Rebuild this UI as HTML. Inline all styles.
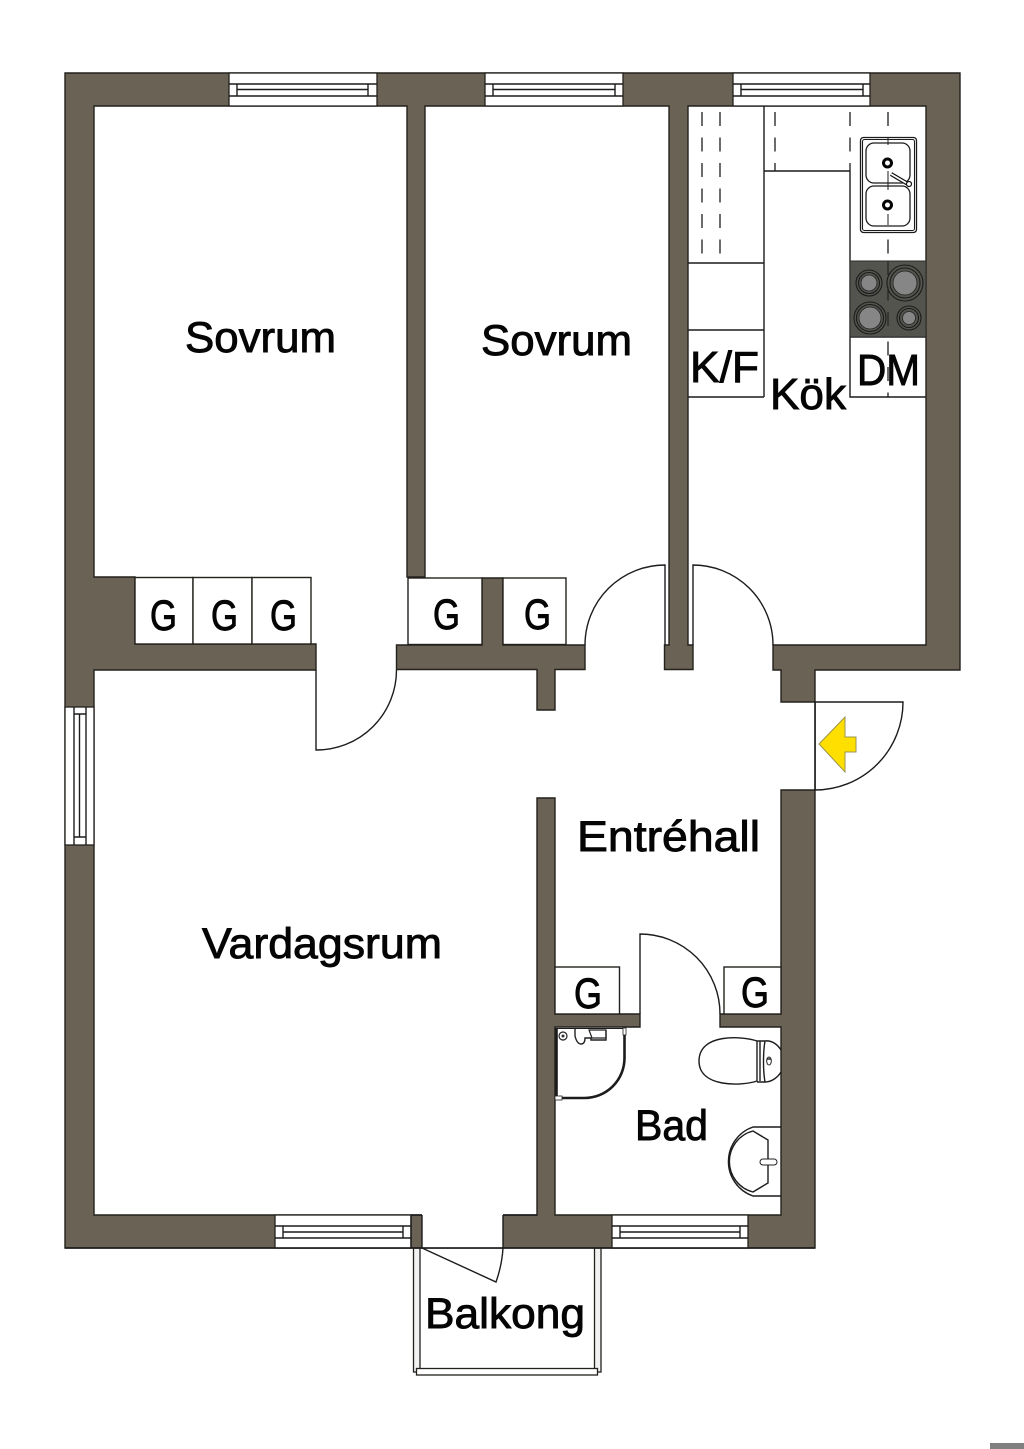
<!DOCTYPE html>
<html><head><meta charset="utf-8"><style>
html,body{margin:0;padding:0;background:#fff}
svg{display:block}
text{font-family:"Liberation Sans",sans-serif;fill:#050505;stroke:#050505;stroke-width:.9}
.w{fill:#6a6254;stroke:#23211c;stroke-width:1.4}
.r{fill:#fff;stroke:#23211c;stroke-width:1.4}
.l{fill:none;stroke:#1c1c1c;stroke-width:1.4}
.d{fill:none;stroke:#1c1c1c;stroke-width:1.3;stroke-dasharray:14 11.500;stroke-dashoffset:19.500}
.b{fill:#fff;stroke:#23211c;stroke-width:1.3}
</style></head><body>
<svg xmlns="http://www.w3.org/2000/svg" width="1024" height="1449" viewBox="0 0 1024 1449">
<rect width="1024" height="1449" fill="#fff"/>
<rect x="990" y="1443" width="34" height="6" fill="#808080"/>

<!-- balcony -->
<rect class="b" x="413.500" y="1248" width="6.500" height="124" style="fill:#f2f2f2"/>
<rect class="b" x="594.500" y="1248" width="6.500" height="124" style="fill:#f2f2f2"/>
<rect class="b" x="416.500" y="1368.500" width="181" height="6.500"/>

<!-- walls -->
<path class="w" d="M65 73H960V670H815V1248H65Z"/>
<path class="r" d="M94 106H407V577H425V106H669V645H664.500V669.500H693V645H688V106H926V645H773V670H781V702H815V790H781V1014H720V1027H781V1215H555V1027H640V1014H555V798H537V1215H94V670H316V644H135V577H94Z"/>
<path class="w" d="M396.500 645H482V578H503V645H585V669.500H555V710H537V669.500H396.500Z"/>

<!-- closets -->
<rect class="r" x="135" y="577.500" width="58" height="66.500"/>
<rect class="r" x="193" y="577.500" width="59" height="66.500"/>
<rect class="r" x="252" y="577.500" width="59" height="66.500"/>
<rect class="r" x="408" y="578" width="74" height="66.500"/>
<rect class="r" x="503" y="578" width="63" height="66.500"/>
<rect class="r" x="555" y="967" width="64.500" height="47"/>
<rect class="r" x="724" y="967" width="57" height="47"/>

<!-- windows top -->
<g>
<rect class="b" x="229" y="73" width="148" height="33"/>
<path class="l" d="M229 84H377M229 96H377M237 84V96M368 84V96M237 89.500H368"/>
<rect class="b" x="485" y="73" width="138" height="33"/>
<path class="l" d="M485 84H623M485 96H623M493 84V96M615 84V96M493 89.500H615"/>
<rect class="b" x="733" y="73" width="137" height="33"/>
<path class="l" d="M733 84H870M733 96H870M741 84V96M863 84V96M741 89.500H863"/>
<!-- left window -->
<rect class="b" x="65" y="707" width="29" height="138"/>
<path class="l" d="M74 707V845M86 707V845M74 714H86M74 837H86M79.500 714V837"/>
<!-- bottom windows -->
<rect class="b" x="275" y="1215" width="136" height="33"/>
<path class="l" d="M275 1226H411M275 1238H411M283 1226V1238M403 1226V1238M283 1232H403"/>
<rect class="b" x="612" y="1215" width="136" height="33"/>
<path class="l" d="M612 1226H748M612 1238H748M620 1226V1238M740 1226V1238M620 1232H740"/>
</g>

<!-- balcony door gap -->
<rect x="422" y="1214" width="81" height="33.300" fill="#fff"/>
<path class="l" d="M411 1215V1248M422 1215V1248M411 1215H422M503 1215V1248M503 1215H537"/>
<path class="l" d="M65 1248H815"/>
<path class="l" d="M422 1248L496 1282Q502 1265 503 1248"/>

<!-- doors -->
<path class="l" d="M316 670V750A80 80 0 0 0 396.500 670"/>
<path class="l" d="M665 645V565A80 80 0 0 0 585 645"/>
<path class="l" d="M693 645V565A80 80 0 0 1 773 645"/>
<path class="l" d="M815 702H903A88 88 0 0 1 815 790Z"/>
<path class="l" d="M640 1014V934A80 80 0 0 1 720 1014"/>

<polygon points="819,744 845,717 845,737 856,737 856,752 845,752 845,772" fill="#ffdf00" stroke="#9a9450" stroke-width="1"/>

<!-- kitchen -->
<path class="l" d="M764 106V397M688 263H764M688 330H764M688 397H764M764 171H850M850 171V397H926M850 337H926"/>
<path class="d" d="M702 106V263M720 106V263"/>
<path class="d" d="M775 106V171M850 106V171"/>
<path class="d" d="M888 106V397"/>
<rect x="850" y="261" width="76" height="76" fill="#54544f" stroke="#2a2a2a" stroke-width="1"/>
<g stroke="#1b1b1b" stroke-width="1.1" fill="#54544f">
<circle cx="869" cy="283" r="13"/><circle cx="869" cy="283" r="10.500"/>
<circle cx="905" cy="283" r="18"/><circle cx="905" cy="283" r="15"/>
<circle cx="870" cy="318" r="16"/><circle cx="870" cy="318" r="13.500"/>
<circle cx="909" cy="318" r="12"/><circle cx="909" cy="318" r="9.500"/>
</g>
<g fill="#868686" stroke="#222" stroke-width=".8">
<circle cx="869" cy="283" r="8"/><circle cx="905" cy="283" r="12"/><circle cx="870" cy="318" r="11"/><circle cx="909" cy="318" r="6.500"/>
</g>
<path d="M888 261V337" stroke="#222" stroke-width="1.2" stroke-dasharray="14 11.500" fill="none"/>

<rect x="860.500" y="137.500" width="56" height="95" rx="3" fill="#fff" stroke="#1c1c1c" stroke-width="1.300"/>
<rect x="862.500" y="139.500" width="52" height="91" rx="2" fill="none" stroke="#1c1c1c" stroke-width="1.100"/>
<rect x="866" y="143" width="44" height="40" rx="8" fill="#fff" stroke="#1c1c1c" stroke-width="1.300"/>
<rect x="866" y="186" width="44" height="40" rx="8" fill="#fff" stroke="#1c1c1c" stroke-width="1.300"/>
<path d="M888 137V145M888 171V190M888 214V225" stroke="#1c1c1c" stroke-width="1"/>
<circle cx="887.500" cy="163" r="4" fill="#fff" stroke="#050505" stroke-width="3"/>
<circle cx="887.500" cy="205" r="4" fill="#fff" stroke="#050505" stroke-width="3"/>
<path d="M891 174L908 184" stroke="#111" stroke-width="4.200"/>
<path d="M891 174L908 184" stroke="#fff" stroke-width="1.700"/>
<circle cx="909" cy="184" r="2.500" fill="#fff" stroke="#111" stroke-width="1.200"/>

<!-- shower -->
<path class="l" style="stroke-width:2.600" d="M556.500 1098V1028M624.500 1028V1058A40 40 0 0 1 584.500 1098H556.500"/>
<path class="l" style="stroke-width:1" d="M556 1028.500H625"/>
<rect x="555" y="1096" width="7" height="4" fill="#fff" stroke="#222" stroke-width=".8"/>
<rect x="623" y="1028" width="3" height="7" fill="#fff" stroke="#222" stroke-width=".8"/>
<circle cx="563" cy="1036" r="4" fill="#fff" stroke="#222" stroke-width="1.200"/>
<circle cx="563" cy="1036" r="1.500" fill="#333"/>
<path d="M575 1029V1036Q577 1044 581 1044 585 1044 585 1038H591V1040H606V1030" fill="#fff" stroke="#222" stroke-width="1.400"/>
<path d="M589 1030H606V1038H592Z" fill="none" stroke="#222" stroke-width="1.200"/>

<!-- toilet -->
<path class="l" d="M757 1041C742 1036 699 1033 699 1061 699 1088 742 1086 757 1081V1041H765C772 1040 778 1045 781 1050M765 1082H757M765 1082C772 1082 778 1077 781 1072M760 1041V1081M765 1041C763 1052 763 1071 765 1082"/>
<ellipse cx="769" cy="1061" rx="2.300" ry="4" fill="#fff" stroke="#222" stroke-width="1"/>
<path class="l" d="M767 1059H771"/>

<!-- basin -->
<path class="l" d="M781 1127H753A36.500 36.500 0 0 0 753 1196H781"/>
<path class="l" d="M768 1140L753 1131A31.500 31.500 0 0 0 753 1192L768 1183Z"/>
<rect x="760" y="1159" width="17" height="6" rx="3" fill="#fff" stroke="#222" stroke-width="1"/>

<!-- labels -->
<text x="185" y="352" font-size="43" textLength="151" lengthAdjust="spacingAndGlyphs">Sovrum</text>
<text x="481" y="355" font-size="43" textLength="151" lengthAdjust="spacingAndGlyphs">Sovrum</text>
<text x="690" y="382" font-size="44" textLength="69" lengthAdjust="spacingAndGlyphs">K/F</text>
<text x="770" y="409" font-size="44" textLength="76" lengthAdjust="spacingAndGlyphs">Kök</text>
<text x="857" y="385" font-size="44" textLength="63" lengthAdjust="spacingAndGlyphs">DM</text>
<text x="577" y="851" font-size="43" textLength="183" lengthAdjust="spacingAndGlyphs">Entréhall</text>
<text x="202" y="958" font-size="43" textLength="240" lengthAdjust="spacingAndGlyphs">Vardagsrum</text>
<text x="635" y="1140" font-size="43" textLength="73" lengthAdjust="spacingAndGlyphs">Bad</text>
<text x="425" y="1328" font-size="43" textLength="160" lengthAdjust="spacingAndGlyphs">Balkong</text>
<g font-size="43">
<text x="150" y="630" textLength="27" lengthAdjust="spacingAndGlyphs">G</text>
<text x="211" y="630" textLength="27" lengthAdjust="spacingAndGlyphs">G</text>
<text x="270" y="630" textLength="27" lengthAdjust="spacingAndGlyphs">G</text>
<text x="433" y="629" textLength="27" lengthAdjust="spacingAndGlyphs">G</text>
<text x="524" y="629" textLength="27" lengthAdjust="spacingAndGlyphs">G</text>
<text x="574" y="1008" textLength="28" lengthAdjust="spacingAndGlyphs">G</text>
<text x="741" y="1007" textLength="28" lengthAdjust="spacingAndGlyphs">G</text>
</g>
</svg>
</body></html>
